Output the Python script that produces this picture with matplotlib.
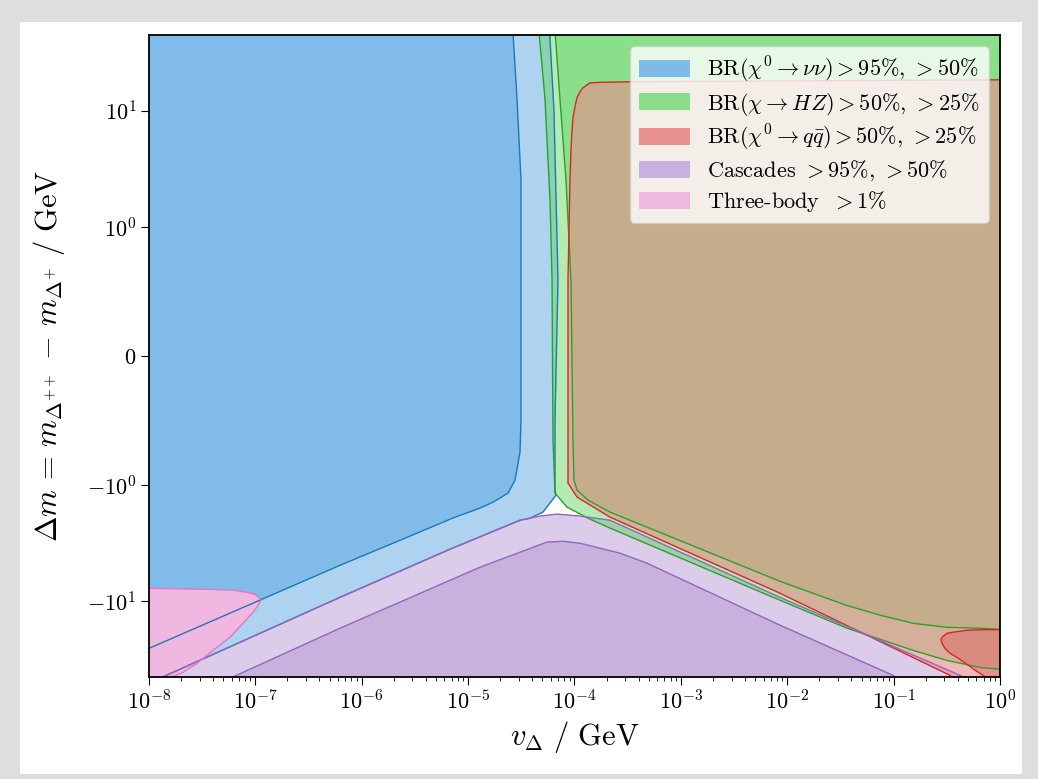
import numpy as np
import matplotlib
matplotlib.use("Agg")
import matplotlib.pyplot as plt
from matplotlib.patches import Patch, Rectangle

plt.rcParams["mathtext.fontset"] = "cm"
plt.rcParams["font.family"] = ["cmr10", "DejaVu Serif"]
plt.rcParams["axes.formatter.use_mathtext"] = True

# --- contour boundaries: log10(v_Delta / GeV) and Delta m / GeV ---
# BR(chi0 -> nu nu) > 50 %  (right edge, then lower edge)
nu50_lv = [-4.240, -4.193, -4.155, -4.183, -4.183, -4.174, -4.296, -4.418, -4.512, -5.170, -6.204, -7.878, -8.0]
nu50_dm = [60, 10.2, 0.59, -0.497, -1.107, -1.222, -1.71, -1.93, -2.01, -3.57, -9.27, -45.3, -51]
# BR(chi0 -> nu nu) > 95 %
nu95_lv = [-4.585, -4.540, -4.503, -4.503, -4.503, -4.512, -4.559, -4.625, -4.766, -4.888, -5.123, -5.640, -6.204, -8.0]
nu95_dm = [60, 12.5, 2.55, 0.434, -0.497, -0.745, -0.962, -1.175, -1.406, -1.58, -1.89, -2.99, -4.91, -25.5]

# BR(chi -> HZ) > 25 %, > 50 %
hz25_lv = [-4.343, -4.277, -4.230, -4.211, -4.202, -4.183, -4.070, -3.873, -3.666, -2.068, -1.438, -0.818, -0.498, -0.188, 0.0]
hz25_dm = [60, 12.5, 1.71, 0.59, -0.652, -1.175, -1.55, -1.93, -2.35, -9.82, -17.1, -26.5, -32.4, -37.2, -38.6]
hz50_lv = [-4.19, -4.136, -4.080, -4.033, -4.014, -4.005, -3.976, -3.873, -3.666, -2.068, -1.758, -1.438, -1.128, -0.818, -0.498, -0.188, 0.0]
hz50_dm = [60, 12.5, 2.55, 0.59, -0.652, -0.962, -1.107, -1.35, -1.71, -6.74, -8.55, -10.9, -13.2, -15.5, -16.8, -17.1, -17.5]

# BR(chi0 -> q qbar) > 25 %, > 50 %
qq25_lv = [0.0, -3.478, -3.760, -3.854, -3.920, -3.948, -3.976, -3.995, -4.014, -4.023, -4.033, -4.042,
           -4.061, -4.061, -4.061, -3.976, -3.666, -2.068, -0.470, -0.423]
qq25_dm = [18.5, 17.8, 17.6, 17.4, 15.8, 14.6, 13.0, 10.9, 8.73, 6.87, 4.62, 2.55,
           0.59, -0.652, -0.985, -1.27, -1.89, -8.55, -43.5, -48]
qq50_lv = [0.0, -0.188, -0.310, -0.442, -0.498, -0.536, -0.555, -0.545, -0.517, -0.470, -0.404, -0.310, -0.216, -0.160, -0.122]
qq50_dm = [-17.6, -17.6, -17.8, -18.5, -18.9, -20.1, -21.3, -23.1, -25.5, -28.1, -30.5, -35.0, -40.3, -43.5, -48]

# cascades > 50 %, > 95 %
cas50_lv = [-8.0, -7.878, -6.204, -5.170, -4.512, -4.324, -4.164, -3.948, -3.666, -2.068, -0.376, -0.30]
cas50_dm = [-51, -45.3, -9.27, -3.57, -2.01, -1.85, -1.78, -1.85, -2.01, -9.27, -43.5, -48]
cas95_lv = [-7.286, -7.220, -6.204, -4.888, -4.258, -4.108, -3.948, -3.572, -3.318, -2.068, -1.006, -0.940]
cas95_dm = [-48.1, -45.3, -17.1, -5.10, -3.10, -3.05, -3.17, -3.86, -4.71, -16.1, -43.5, -48.1]

# three-body > 1 %
tb_lv = [-8.0, -7.455, -7.210, -7.079, -7.004, -6.966, -6.947, -6.975, -7.022, -7.116, -7.239, -7.398, -7.549, -7.680, -7.774, -7.821]
tb_dm = [-7.74, -7.91, -8.05, -8.38, -8.73, -9.27, -9.82, -10.9, -12.5, -15.5, -20.5, -26.5, -34.4, -41.0, -44.4, -48]

labels = [r"$\mathrm{BR}(\chi^0 \to \nu\nu) > 95\%,\, > 50\%$",
          r"$\mathrm{BR}(\chi \to HZ) > 50\%,\, > 25\%$",
          r"$\mathrm{BR}(\chi^0 \to q\bar{q}) > 50\%,\, > 25\%$",
          r"Cascades $> 95\%,\, > 50\%$",
          r"Three-body $\;> 1\%$"]
legend_colors = ["#7fbbe6", "#8ade8a", "#e99090", "#c8b1de", "#f0bae0"]


def xy(lv, dm):
    return 10.0 ** np.asarray(lv, float), np.asarray(dm, float)


def region(lv, dm, close_lv, close_dm):
    # close a contour curve through points lying outside the axes
    return xy(list(lv) + close_lv, list(dm) + close_dm)


fig = plt.figure(figsize=(10.38, 7.79), dpi=100)
fig.patch.set_facecolor("#dedede")
fig.patches.append(Rectangle((0.0193, 0.0064), 0.9653, 0.9654, transform=fig.transFigure,
                             facecolor="white", edgecolor="none", zorder=-10))
ax = fig.add_axes([0.1435, 0.1309, 0.8199, 0.8242])
ax.set_xscale("log")
ax.set_yscale("symlog", linthresh=1)

blue, green, red, purple = "#4b9fe2", "#58d358", "#ea8c8c", "#b190d0"

ax.fill(*region(nu50_lv, nu50_dm, [-8.3, -8.3], [-51, 60]), color=blue, alpha=0.45, lw=0)
ax.fill(*region(nu95_lv, nu95_dm, [-8.3, -8.3], [-25.5, 60]), color=blue, alpha=0.45, lw=0)
ax.fill(*region(cas50_lv, cas50_dm, [-0.30, -8.3, -8.3], [-90, -90, -51]), color=purple, alpha=0.45, lw=0)
ax.fill(*region(cas95_lv, cas95_dm, [-0.94, -7.286], [-90, -90]), color=purple, alpha=0.45, lw=0)
ax.fill(*region(hz25_lv, hz25_dm, [0.3, 0.3], [-38.6, 60]), color=green, alpha=0.45, lw=0)
ax.fill(*region(hz50_lv, hz50_dm, [0.3, 0.3], [-17.5, 60]), color=green, alpha=0.45, lw=0)
ax.fill(*region(qq25_lv, qq25_dm, [-0.423, 0.3, 0.3], [-90, -90, 18.5]), color=red, alpha=0.62, lw=0)
ax.fill(*region(qq50_lv, qq50_dm, [-0.122, 0.3, 0.3], [-90, -90, -17.6]), color="#e26161", alpha=0.46, lw=0)
ax.fill(*region(tb_lv, tb_dm, [-8.3, -8.3], [-90, -7.74]), color="#f0b8e0", lw=0)

lw = 1.0
ax.plot(*xy(nu50_lv, nu50_dm), color="#1f77b4", lw=lw)
ax.plot(*xy(nu95_lv, nu95_dm), color="#1f77b4", lw=lw)
ax.plot(*xy(hz25_lv, hz25_dm), color="#2ca02c", lw=lw)
ax.plot(*xy(hz50_lv, hz50_dm), color="#2ca02c", lw=lw)
ax.plot(*xy(qq25_lv, qq25_dm), color="#d62728", lw=lw)
ax.plot(*xy(qq50_lv, qq50_dm), color="#d62728", lw=lw)
ax.plot(*xy(cas50_lv, cas50_dm), color="#9467bd", lw=lw)
ax.plot(*xy(cas95_lv, cas95_dm), color="#9467bd", lw=lw)
ax.plot(*xy(tb_lv, tb_dm), color="#e377c2", lw=lw)

ax.set_xlim(1e-8, 1)
ax.set_ylim(-45, 45)
ax.set_xlabel(r"$v_\Delta\ /\ \mathrm{GeV}$", fontsize=22)
ax.set_ylabel(r"$\Delta m \,=\, m_{\Delta^{++}} \,-\, m_{\Delta^{+}}\ /\ \mathrm{GeV}$", fontsize=22, labelpad=14)
ax.tick_params(labelsize=16)
ax.tick_params(which="major", length=5.5)
ax.tick_params(which="minor", length=3)
for s in ax.spines.values():
    s.set_linewidth(1.3)

handles = [Patch(facecolor=c, edgecolor="none") for c in legend_colors]
ax.legend(handles, labels, loc="upper right", fontsize=16, handlelength=2.3,
          handleheight=0.8, labelspacing=0.25, framealpha=0.8)

fig.savefig("out.png", dpi=100, facecolor=fig.get_facecolor())
